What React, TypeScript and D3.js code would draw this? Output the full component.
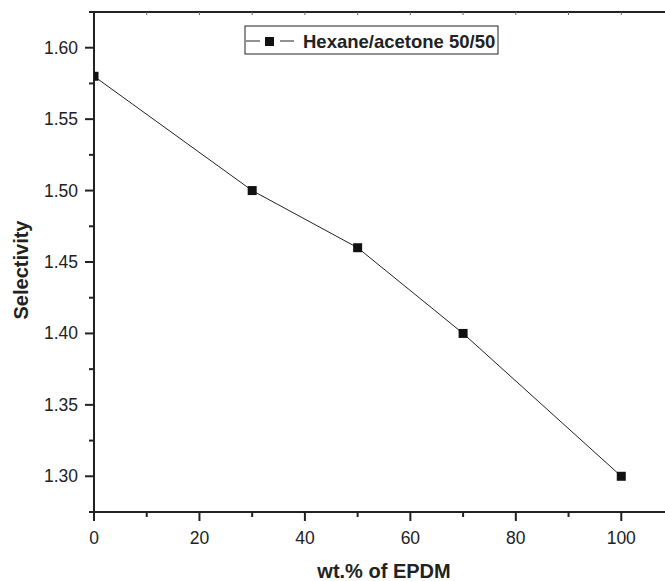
import { useEffect, useRef } from "react";
import * as d3 from "d3";

const wtEPDM = [0, 30, 50, 70, 100];
const selectivity = [1.58, 1.5, 1.46, 1.4, 1.3];
const xTicks = [0, 20, 40, 60, 80, 100];
const yTicks = [1.3, 1.35, 1.4, 1.45, 1.5, 1.55, 1.6];
const seriesName = "Hexane/acetone 50/50";

export default function App() {
  const ref = useRef<SVGSVGElement>(null);

  useEffect(() => {
    const svg = d3.select(ref.current);
    svg.selectAll("*").remove();

    const W = 665;
    const left = 94, top = 12, bottom = 512, right = 674;
    const x = d3.scaleLinear().domain([0, 110]).range([left, right]);
    const y = d3.scaleLinear().domain([1.275, 1.625]).range([bottom, top]);
    const ink = "#222";
    const font = "Liberation Sans, Arial, sans-serif";

    svg.append("defs").append("clipPath").attr("id", "plot")
      .append("rect").attr("x", left).attr("y", top)
      .attr("width", W - left).attr("height", bottom - top);

    // frame: right side is cut off by the picture edge
    svg.append("path")
      .attr("d", `M${W},${top}H${left}V${bottom}H${W}`)
      .attr("fill", "none").attr("stroke", ink).attr("stroke-width", 2);

    // x axis ticks
    const xMinor = [10, 30, 50, 70, 90];
    svg.append("g").selectAll("line").data(xTicks).enter().append("line")
      .attr("x1", d => x(d)).attr("x2", d => x(d))
      .attr("y1", bottom).attr("y2", bottom + 9)
      .attr("stroke", ink).attr("stroke-width", 2);
    svg.append("g").selectAll("line").data(xMinor).enter().append("line")
      .attr("x1", d => x(d)).attr("x2", d => x(d))
      .attr("y1", bottom).attr("y2", bottom + 5)
      .attr("stroke", ink).attr("stroke-width", 2);
    svg.append("g").selectAll("line").data(d3.range(10, 101, 10)).enter().append("line")
      .attr("x1", d => x(d)).attr("x2", d => x(d))
      .attr("y1", top).attr("y2", top + 3)
      .attr("stroke", "#666").attr("stroke-width", 1);
    svg.append("g").selectAll("text").data(xTicks).enter().append("text")
      .attr("x", d => x(d)).attr("y", bottom + 32)
      .attr("text-anchor", "middle")
      .attr("font-family", font)
      .attr("font-size", 17.5).attr("fill", ink)
      .text(d => d);

    // y axis ticks
    const yMinor = [1.275, 1.325, 1.375, 1.425, 1.475, 1.525, 1.575, 1.625];
    svg.append("g").selectAll("line").data(yTicks).enter().append("line")
      .attr("x1", left - 9).attr("x2", left)
      .attr("y1", d => y(d)).attr("y2", d => y(d))
      .attr("stroke", ink).attr("stroke-width", 2);
    svg.append("g").selectAll("line").data(yMinor).enter().append("line")
      .attr("x1", left - 5).attr("x2", left)
      .attr("y1", d => y(d)).attr("y2", d => y(d))
      .attr("stroke", ink).attr("stroke-width", 2);
    svg.append("g").selectAll("text").data(yTicks).enter().append("text")
      .attr("x", left - 16).attr("y", d => y(d) + 6)
      .attr("text-anchor", "end")
      .attr("font-family", font)
      .attr("font-size", 17.5).attr("fill", ink)
      .text(d => d.toFixed(2));

    // series
    const pts = wtEPDM.map((v, i) => [v, selectivity[i]] as [number, number]);
    const g = svg.append("g").attr("clip-path", "url(#plot)");
    g.append("path")
      .attr("d", d3.line<[number, number]>().x(d => x(d[0])).y(d => y(d[1]))(pts))
      .attr("fill", "none").attr("stroke", ink).attr("stroke-width", 1);
    g.selectAll("rect").data(pts).enter().append("rect")
      .attr("x", d => x(d[0]) - 4.5).attr("y", d => y(d[1]) - 4.5)
      .attr("width", 9).attr("height", 9).attr("fill", "#111");

    // legend
    const lg = svg.append("g");
    lg.append("rect").attr("x", 245).attr("y", 26).attr("width", 253).attr("height", 28)
      .attr("fill", "white").attr("stroke", ink).attr("stroke-width", 1);
    lg.append("line").attr("x1", 246).attr("x2", 260).attr("y1", 41).attr("y2", 41)
      .attr("stroke", ink).attr("stroke-width", 1);
    lg.append("line").attr("x1", 280).attr("x2", 294).attr("y1", 41).attr("y2", 41)
      .attr("stroke", ink).attr("stroke-width", 1);
    lg.append("rect").attr("x", 265).attr("y", 37).attr("width", 9).attr("height", 9).attr("fill", "#111");
    lg.append("text").attr("x", 303).attr("y", 48)
      .attr("font-family", font)
      .attr("font-size", 18.5).attr("font-weight", "bold").attr("fill", ink)
      .text(seriesName);

    // axis titles
    svg.append("text").attr("x", (left + right) / 2).attr("y", 578)
      .attr("text-anchor", "middle")
      .attr("font-family", font)
      .attr("font-size", 20).attr("font-weight", "bold").attr("fill", ink)
      .text("wt.% of EPDM");
    svg.append("text")
      .attr("transform", `translate(28,270) rotate(-90)`)
      .attr("text-anchor", "middle")
      .attr("font-family", font)
      .attr("font-size", 20).attr("font-weight", "bold").attr("fill", ink)
      .text("Selectivity");
  }, []);

  return (
    <svg ref={ref} width={665} height={581}
      style={{ position: "absolute", left: 0, top: 0, background: "white", overflow: "hidden" }} />
  );
}
